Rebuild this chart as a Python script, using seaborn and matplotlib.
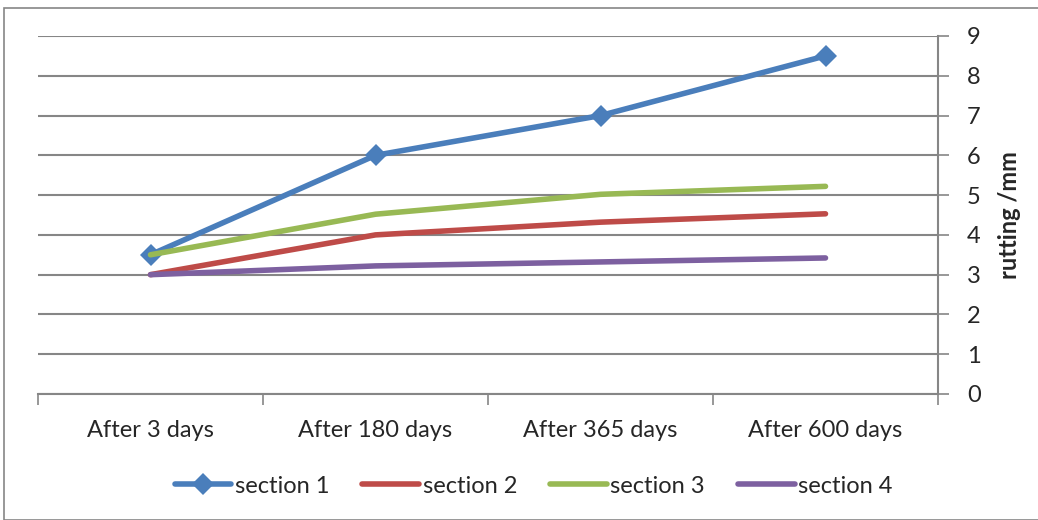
import numpy as np
import pandas as pd
import matplotlib
matplotlib.use("Agg")
import matplotlib.pyplot as plt
import seaborn as sns
from matplotlib.patches import Rectangle
from matplotlib.ticker import FixedLocator

# data
categories = ["After 3 days", "After 180 days", "After 365 days", "After 600 days"]
section1 = [3.5, 6.0, 7.0, 8.5]
section2 = [3.0, 4.0, 4.32, 4.53]
section3 = [3.5, 4.52, 5.02, 5.22]
section4 = [3.0, 3.22, 3.32, 3.42]
series_names = ["section 1", "section 2", "section 3", "section 4"]
colors = ["#4a7ebb", "#be4b48", "#98b954", "#7d60a0"]
markers = ["D", None, None, None]

sns.set_style("white")
plt.rcParams['font.family'] = ['Lato', 'DejaVu Sans']

fig = plt.figure(figsize=(10.38, 5.2), dpi=100)
ax = fig.add_axes([38/1038, 1 - 394/520, 900/1038, (394 - 36)/520])

# outer chart frame
fig.patches.append(Rectangle((4/1038, 0), 1.1, 1 - 8/520, transform=fig.transFigure,
	fill=False, edgecolor="#868686", linewidth=1.2, zorder=0))

x = np.arange(len(categories))
for name, vals, c, m in zip(series_names, [section1, section2, section3, section4], colors, markers):
	sns.lineplot(x=x, y=vals, color=c, marker=m, linewidth=4, markersize=11,
		markeredgewidth=0, solid_capstyle="round", label=name, ax=ax)

ax.set_xlim(-0.5, 3.5)
ax.set_ylim(0, 9)

# y axis on the right
ax.yaxis.tick_right()
ax.set_yticks(range(0, 10))
ax.tick_params(axis="y", which="major", length=8, width=1.2, color="#868686",
	labelsize=17, pad=13, right=True, left=False)
ax.yaxis.grid(True, color="#868686", linewidth=1.5)
ax.set_axisbelow(True)
ax.yaxis.set_label_position("right")
ax.set_ylabel("rutting /mm", fontsize=17, fontweight="bold", labelpad=12)

# x ticks between categories, labels at the centers
ax.xaxis.set_major_locator(FixedLocator([-0.5, 0.5, 1.5, 2.5, 3.5]))
ax.xaxis.set_minor_locator(FixedLocator([0, 1, 2, 3]))
ax.set_xticklabels([], minor=False)
ax.set_xticklabels(categories, minor=True)
ax.tick_params(axis="x", which="major", length=8, width=1.2, color="#868686", bottom=True)
ax.tick_params(axis="x", which="minor", length=0, labelsize=17, pad=19)
ax.set_xlabel("")

for side in ["top", "left"]:
	ax.spines[side].set_visible(False)
for side in ["bottom", "right"]:
	ax.spines[side].set_color("#868686")
	ax.spines[side].set_linewidth(1.5)

h, l = ax.get_legend_handles_labels()
ax.legend(h, l, loc="center", bbox_to_anchor=(0.514, 0.065), bbox_transform=fig.transFigure,
	ncol=4, frameon=False, fontsize=17, handlelength=2.4, handletextpad=0.15,
	columnspacing=1.4)

fig.savefig("out.png", dpi=100)
